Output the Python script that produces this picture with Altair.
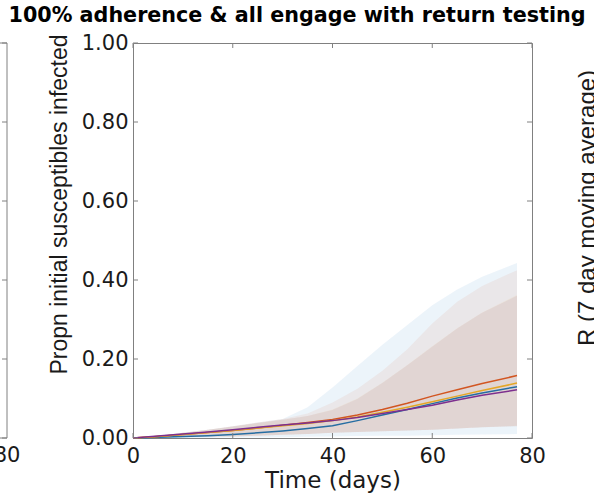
import altair as alt
import pandas as pd

# Simulation days at which the summary curves are sampled
days = [0, 5, 10, 15, 20, 25, 30, 35, 40, 45, 50, 55, 60, 65, 70, 77]

# Median proportion of initial susceptibles infected, per scenario
med_blue = [0, 0.002, 0.004, 0.006, 0.009, 0.013, 0.018, 0.024, 0.031, 0.044, 0.058, 0.072, 0.087, 0.101, 0.114, 0.130]
med_orange = [0, 0.004, 0.009, 0.014, 0.019, 0.025, 0.032, 0.039, 0.047, 0.058, 0.072, 0.088, 0.106, 0.122, 0.138, 0.158]
med_yellow = [0, 0.004, 0.009, 0.014, 0.019, 0.025, 0.031, 0.037, 0.044, 0.053, 0.065, 0.078, 0.092, 0.106, 0.120, 0.139]
med_purple = [0, 0.005, 0.010, 0.015, 0.021, 0.027, 0.033, 0.038, 0.044, 0.052, 0.062, 0.072, 0.083, 0.096, 0.108, 0.122]

# Lower / upper bounds of the uncertainty bands
lo_blue = [0, 0, 0, 0, 0.001, 0.001, 0.002, 0.003, 0.004, 0.005, 0.006, 0.006, 0.007, 0.008, 0.009, 0.010]
hi_blue = [0, 0.006, 0.013, 0.021, 0.030, 0.039, 0.048, 0.078, 0.128, 0.182, 0.236, 0.286, 0.336, 0.376, 0.408, 0.443]
lo_orange = [0, 0.001, 0.002, 0.003, 0.004, 0.006, 0.008, 0.010, 0.013, 0.015, 0.017, 0.019, 0.021, 0.024, 0.027, 0.031]
hi_orange = [0, 0.006, 0.013, 0.021, 0.030, 0.039, 0.048, 0.062, 0.090, 0.125, 0.170, 0.225, 0.290, 0.345, 0.385, 0.425]
lo_yellow = [0, 0.001, 0.002, 0.003, 0.004, 0.006, 0.008, 0.010, 0.013, 0.015, 0.017, 0.019, 0.021, 0.024, 0.027, 0.030]
hi_yellow = [0, 0.006, 0.013, 0.021, 0.029, 0.038, 0.046, 0.056, 0.072, 0.100, 0.140, 0.185, 0.232, 0.278, 0.318, 0.362]
lo_purple = [0, 0.001, 0.002, 0.003, 0.004, 0.006, 0.008, 0.010, 0.013, 0.015, 0.017, 0.019, 0.021, 0.024, 0.027, 0.030]
hi_purple = [0, 0.006, 0.013, 0.021, 0.029, 0.038, 0.046, 0.056, 0.071, 0.099, 0.139, 0.184, 0.231, 0.277, 0.317, 0.360]

x_ticks = [0, 20, 40, 60, 80]
y_ticks = [0.0, 0.2, 0.4, 0.6, 0.8, 1.0]

TITLE = "100% adherence & all engage with return testing"

keys = ["blue", "orange", "yellow", "purple"]
colors = {"blue": "#0072BD", "orange": "#D95319", "yellow": "#EDB120", "purple": "#7E2F8E"}
meds = {"blue": med_blue, "orange": med_orange, "yellow": med_yellow, "purple": med_purple}
los = {"blue": lo_blue, "orange": lo_orange, "yellow": lo_yellow, "purple": lo_purple}
his = {"blue": hi_blue, "orange": hi_orange, "yellow": hi_yellow, "purple": hi_purple}

W, H = 399, 395
FRAME = "#808080"
INK = "#1a1a1a"

xscale = alt.Scale(domain=[0, 80], nice=False, zero=False)
yscale = alt.Scale(domain=[0, 1], nice=False)

xaxis = alt.Axis(
    values=x_ticks, format="d", ticks=False, tickSize=0, domain=False, grid=False,
    labelFlush=False, labelOverlap=False,
    labelFont="DejaVu Sans", labelFontSize=21, labelColor=INK, labelPadding=7,
    title="Time (days)", titleFont="DejaVu Sans", titleFontSize=23,
    titleFontWeight="normal", titleColor=INK, titlePadding=3,
)
yaxis = alt.Axis(
    values=y_ticks, format=".2f", ticks=False, tickSize=0, domain=False, grid=False,
    labelOverlap=False,
    labelFont="DejaVu Sans", labelFontSize=21, labelColor=INK, labelPadding=5,
    title="Propn initial susceptibles infected", titleFont="Liberation Sans",
    titleFontSize=23, titleFontWeight="normal", titleColor=INK,
    titleAngle=270, titleAlign="center", titleBaseline="middle",
    titleX=-74, titleY=161,
)


def X(field):
    return alt.X(field, type="quantitative", scale=xscale, axis=xaxis)


def Y(field):
    return alt.Y(field, type="quantitative", scale=yscale, axis=yaxis)


layers = []
# Each scenario: its median line, then its translucent band over it
for k in keys:
    sub = pd.DataFrame({"day": days, "med": meds[k], "lo": los[k], "hi": his[k]})
    layers.append(
        alt.Chart(sub).mark_line(color=colors[k], strokeWidth=1.5).encode(x=X("day"), y=Y("med"))
    )
    layers.append(
        alt.Chart(sub).mark_area(color=colors[k], opacity=0.075).encode(x=X("day"), y=Y("lo"), y2="hi")
    )

# Inward tick marks on all four sides of the frame
xt = pd.DataFrame({"day": x_ticks})
yt = pd.DataFrame({"med": y_ticks})
layers.append(alt.Chart(xt).mark_rule(color=FRAME).encode(x=X("day"), y=alt.value(H), y2=alt.value(H - 5)))
layers.append(alt.Chart(xt).mark_rule(color=FRAME).encode(x=X("day"), y=alt.value(0), y2=alt.value(5)))
layers.append(alt.Chart(yt).mark_rule(color=FRAME).encode(y=Y("med"), x=alt.value(0), x2=alt.value(5)))
layers.append(alt.Chart(yt).mark_rule(color=FRAME).encode(y=Y("med"), x=alt.value(W - 5), x2=alt.value(W)))

# Edge of the neighbouring panel on the left
EDGE = -126
one = pd.DataFrame({"k": [0]})
layers.append(alt.Chart(one).mark_rule(color=FRAME).encode(x=alt.value(EDGE), y=alt.value(0), y2=alt.value(H)))
layers.append(alt.Chart(one).mark_rule(color=FRAME).encode(x=alt.value(EDGE - 20), x2=alt.value(EDGE), y=alt.value(0)))
layers.append(alt.Chart(one).mark_rule(color=FRAME).encode(x=alt.value(EDGE - 20), x2=alt.value(EDGE), y=alt.value(H)))
layers.append(alt.Chart(yt).mark_rule(color=FRAME).encode(y=Y("med"), x=alt.value(EDGE - 5), x2=alt.value(EDGE)))
left_lab = pd.DataFrame({"t": ["80"]})
layers.append(
    alt.Chart(left_lab).mark_text(font="DejaVu Sans", fontSize=21, color=INK, align="center", baseline="top")
    .encode(text="t:N", x=alt.value(EDGE), y=alt.value(H + 7))
)

# Axis label of the neighbouring panel on the right
right_lab = pd.DataFrame({"t": ["R (7 day moving average)"]})
layers.append(
    alt.Chart(right_lab).mark_text(font="Liberation Sans", fontSize=24, color=INK, align="center",
                                   baseline="alphabetic", angle=270)
    .encode(text="t:N", x=alt.value(462), y=alt.value(165))
)

# Figure title, centred over the whole figure
title_df = pd.DataFrame({"t": [TITLE]})
layers.append(
    alt.Chart(title_df).mark_text(font="DejaVu Sans", fontSize=20.7, fontWeight="bold", color="black",
                                  align="center", baseline="alphabetic")
    .encode(text="t:N", x=alt.value(297 - 133), y=alt.value(-21))
)

chart = alt.layer(*layers).properties(
    width=W, height=H,
    autosize=alt.AutoSizeParams(type="none"),
    padding={"left": 133, "top": 43, "right": 62, "bottom": 56},
).configure_view(stroke=FRAME, strokeWidth=1)

chart.save("out.html", embed_options={"renderer": "svg", "actions": False})
